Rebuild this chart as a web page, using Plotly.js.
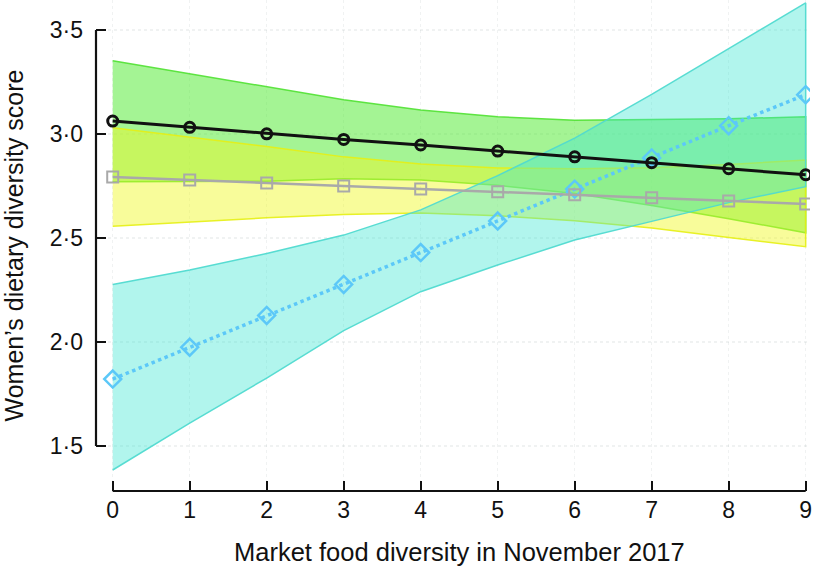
<!DOCTYPE html>
<html>
<head>
<meta charset="utf-8">
<script src="https://cdn.plot.ly/plotly-3.0.1.min.js"></script>
<style>html,body{margin:0;padding:0;background:#fff;}#chart{width:813px;height:567px;}</style>
</head>
<body>
<div id="chart"></div>
<script>
// Market food diversity (x)
const marketDiversity = [0, 1, 2, 3, 4, 5, 6, 7, 8, 9];

// Black series (circles) with green confidence band
const blackMean  = [3.062, 3.032, 3.001, 2.974, 2.947, 2.918, 2.890, 2.862, 2.833, 2.804];
const greenUpper = [3.352, 3.290, 3.227, 3.165, 3.115, 3.083, 3.066, 3.068, 3.073, 3.083];
const greenLower = [2.770, 2.770, 2.773, 2.785, 2.779, 2.753, 2.714, 2.656, 2.593, 2.525];

// Grey series (squares) with yellow confidence band
const greyMean    = [2.793, 2.779, 2.765, 2.750, 2.736, 2.722, 2.708, 2.693, 2.678, 2.664];
const yellowUpper = [3.030, 2.985, 2.940, 2.890, 2.856, 2.837, 2.833, 2.838, 2.853, 2.875];
const yellowLower = [2.557, 2.577, 2.597, 2.613, 2.620, 2.607, 2.583, 2.548, 2.503, 2.458];

// Light blue series (diamonds, dotted) with cyan confidence band
const blueMean  = [1.822, 1.975, 2.128, 2.277, 2.430, 2.582, 2.735, 2.885, 3.040, 3.189];
const cyanUpper = [2.277, 2.346, 2.426, 2.514, 2.635, 2.800, 2.980, 3.190, 3.410, 3.630];
const cyanLower = [1.385, 1.610, 1.827, 2.055, 2.242, 2.370, 2.490, 2.580, 2.670, 2.747];

// Tick labels
const xTickVals = [0, 1, 2, 3, 4, 5, 6, 7, 8, 9];
const yTickVals = [1.5, 2.0, 2.5, 3.0, 3.5];
const yTickText = ['1·5', '2·0', '2·5', '3·0', '3·5'];

const xRange = [-0.217, 9.056];
const yRange = [1.284, 3.644];

function band(upper, lower, fill, edge) {
  return {
    x: marketDiversity.concat(marketDiversity.slice().reverse()),
    y: upper.concat(lower.slice().reverse()),
    type: 'scatter', mode: 'lines', fill: 'toself',
    fillcolor: fill, line: {color: edge, width: 1.5},
    hoverinfo: 'skip', showlegend: false
  };
}

const traces = [
  band(greenUpper, greenLower, 'rgba(90,235,60,0.55)', 'rgba(80,225,50,0.9)'),
  band(yellowUpper, yellowLower, 'rgba(240,248,30,0.45)', 'rgba(230,240,20,0.9)'),
  band(cyanUpper, cyanLower, 'rgba(60,230,210,0.4)', 'rgba(80,218,208,0.95)'),
  {
    x: marketDiversity, y: blueMean, type: 'scatter', mode: 'lines+markers',
    line: {color: '#5cc8f8', width: 3.5, dash: 'dot'},
    marker: {symbol: 'diamond-open', size: 13, color: '#5cc8f8', line: {width: 2.5, color: '#5cc8f8'}},
    showlegend: false
  },
  {
    x: marketDiversity, y: greyMean, type: 'scatter', mode: 'lines+markers',
    line: {color: '#a9a9a9', width: 2.5},
    marker: {symbol: 'square-open', size: 11, color: '#a9a9a9', line: {width: 2, color: '#a9a9a9'}},
    showlegend: false
  },
  {
    x: marketDiversity, y: blackMean, type: 'scatter', mode: 'lines+markers',
    line: {color: '#111111', width: 3},
    marker: {symbol: 'circle-open', size: 10, color: '#111111', line: {width: 3, color: '#111111'}},
    showlegend: false
  }
];

function px(v) { return (v - xRange[0]) / (xRange[1] - xRange[0]); }
function py(v) { return (v - yRange[0]) / (yRange[1] - yRange[0]); }

const fontFam = 'Liberation Sans, Arial, Helvetica, sans-serif';

const layout = {
  width: 813, height: 567,
  margin: {l: 96, r: 3, t: 0, b: 76},
  paper_bgcolor: '#ffffff', plot_bgcolor: 'rgba(0,0,0,0)',
  font: {family: fontFam, color: '#111111'},
  showlegend: false,
  xaxis: {
    range: xRange, tickvals: xTickVals, ticktext: xTickVals.map(String),
    ticks: 'inside', ticklen: 10, tickwidth: 2, tickcolor: '#111111',
    showline: false, zeroline: false,
    showgrid: true, gridcolor: 'rgba(110,130,130,0.1)', griddash: 'dot', gridwidth: 1.5,
    tickfont: {size: 23, family: fontFam, color: '#111111'},
    ticklabelstandoff: 3
  },
  yaxis: {
    range: yRange, tickvals: yTickVals, ticktext: yTickText,
    ticks: 'inside', ticklen: 10, tickwidth: 2, tickcolor: '#111111',
    showline: false, zeroline: false,
    showgrid: true, gridcolor: 'rgba(110,130,130,0.1)', griddash: 'dot', gridwidth: 1.5,
    tickfont: {size: 23, family: fontFam, color: '#111111'},
    ticklabelstandoff: 12,
    title: {text: 'Women’s dietary diversity score', font: {size: 25, family: fontFam, color: '#111111'}, standoff: 19}
  },
  shapes: [
    {type: 'line', xref: 'paper', yref: 'paper', x0: px(0), x1: px(9), y0: 0, y1: 0,
     line: {color: '#111111', width: 2.2}},
    {type: 'line', xref: 'paper', yref: 'paper', x0: 0, x1: 0, y0: py(1.5), y1: py(3.5),
     line: {color: '#111111', width: 2.2}}
  ],
  annotations: [
    {text: 'Market food diversity in November 2017', xref: 'x', yref: 'paper',
     x: 4.5, y: 0, yshift: -61, xanchor: 'center', yanchor: 'middle', showarrow: false,
     font: {size: 25.5, family: fontFam, color: '#111111'}}
  ]
};

Plotly.newPlot('chart', traces, layout, {staticPlot: true, displayModeBar: false});
</script>
</body>
</html>
